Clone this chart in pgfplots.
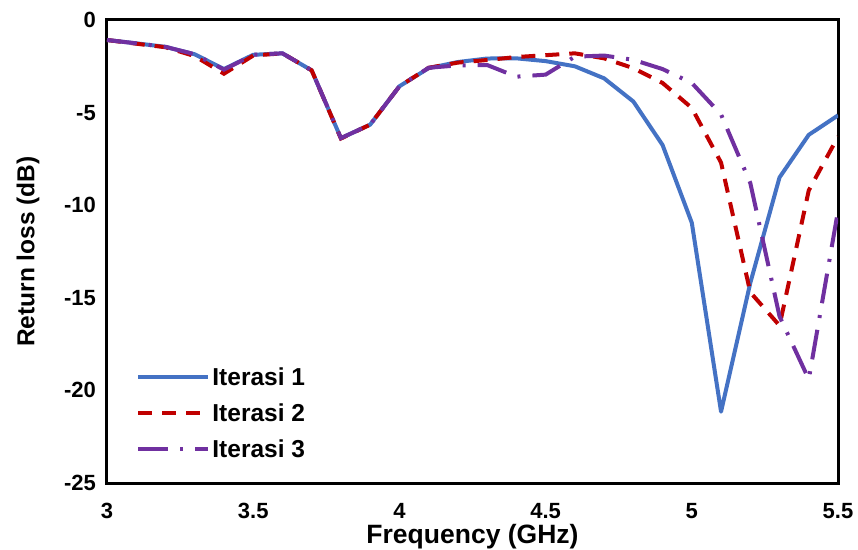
\documentclass[border=0pt]{standalone}
\usepackage{fontspec}
\setmainfont{Liberation Sans}
\usepackage{pgfplots}
\pgfplotsset{compat=1.18}
\definecolor{c1}{RGB}{68,114,196}
\definecolor{c2}{RGB}{192,0,0}
\definecolor{c3}{RGB}{112,48,160}

\pgfplotstableread{
f s1 s2 s3
3.0 -1.08 -1.08 -1.08
3.1 -1.26 -1.28 -1.26
3.2 -1.45 -1.47 -1.45
3.3 -1.85 -1.95 -1.85
3.4 -2.65 -2.90 -2.68
3.5 -1.88 -1.92 -1.88
3.6 -1.80 -1.80 -1.80
3.7 -2.72 -2.72 -2.72
3.8 -6.38 -6.40 -6.38
3.9 -5.65 -5.65 -5.65
4.0 -3.58 -3.58 -3.58
4.1 -2.60 -2.58 -2.58
4.2 -2.27 -2.30 -2.45
4.3 -2.08 -2.16 -2.43
4.4 -2.07 -2.00 -3.06
4.5 -2.22 -1.90 -2.95
4.6 -2.50 -1.80 -1.98
4.7 -3.15 -2.07 -1.92
4.8 -4.40 -2.60 -2.15
4.9 -6.75 -3.40 -2.65
5.0 -10.95 -4.75 -3.40
5.1 -21.15 -7.70 -5.10
5.2 -14.20 -14.70 -8.80
5.3 -8.50 -16.50 -16.00
5.4 -6.20 -9.20 -19.40
5.5 -5.15 -6.30 -10.30
}\datatable

\begin{document}
\begin{tikzpicture}
\path[use as bounding box] (-107pt,-66pt) rectangle (751pt,483pt);
\begin{axis}[
  scale only axis, width=731pt, height=463pt,
  xmin=3, xmax=5.5, ymin=-25, ymax=0,
  xtick={3,3.5,4,4.5,5,5.5},
  ytick={-25,-20,-15,-10,-5,0},
  xticklabels={3,3.5,4,4.5,5,5.5},
  yticklabels={-25,-20,-15,-10,-5,0},
  major tick length=0pt,
  axis line style={line width=3pt, black},
  tick label style={font=\fontsize{22}{26}\selectfont\bfseries},
  xticklabel style={anchor=base, inner sep=0pt, yshift=-35pt},
  yticklabel style={anchor=east, inner sep=0pt, xshift=-11pt},
  xlabel={Frequency (GHz)},
  ylabel={Return loss (dB)},
  xlabel style={font=\fontsize{26.5}{30}\selectfont\bfseries, at={(axis description cs:0.5,0)}, anchor=center, yshift=-54pt},
  ylabel style={font=\fontsize{24.5}{29}\selectfont\bfseries, at={(axis description cs:-0.108,0.5)}, anchor=center},
  legend style={draw=none, fill=none, at={(axis description cs:0.040,0.047)}, anchor=south west,
    font=\fontsize{24.5}{29}\selectfont\bfseries, row sep=13pt, inner sep=0pt, nodes={inner sep=2pt}},
  legend cell align=left,
  legend image code/.code={\draw[#1] (0pt,0pt) -- (70pt,0pt);},
]
\addplot[c1, line width=4pt, line join=round] table[x=f, y=s1] {\datatable};
\addlegendentry{Iterasi 1}
\addplot[c2, line width=4pt, dash pattern=on 14pt off 10pt] table[x=f, y=s2] {\datatable};
\addlegendentry{Iterasi 2}
\addplot[c3, line width=4pt, dash pattern=on 30pt off 12pt on 3pt off 12pt] table[x=f, y=s3] {\datatable};
\addlegendentry{Iterasi 3}
\end{axis}
\end{tikzpicture}
\end{document}
